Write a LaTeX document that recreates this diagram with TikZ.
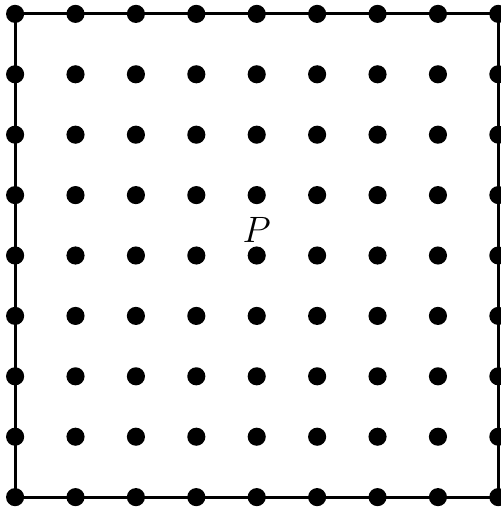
\documentclass[tikz,border=0pt]{standalone}
\usepackage{tikz}

\begin{document}
\begin{tikzpicture}[x=1cm,y=1cm]
\clip (-0.25,-0.18) rectangle (8.04,8.23);
\draw[line width=1.4pt] (0,0) rectangle (8,8);
\foreach \i in {0,...,8}
  \foreach \j in {0,...,8}
    \fill (\i,\j) circle (0.15);
\node (P) at (4,4.42) {\LARGE $P$};
\end{tikzpicture}
\end{document}
